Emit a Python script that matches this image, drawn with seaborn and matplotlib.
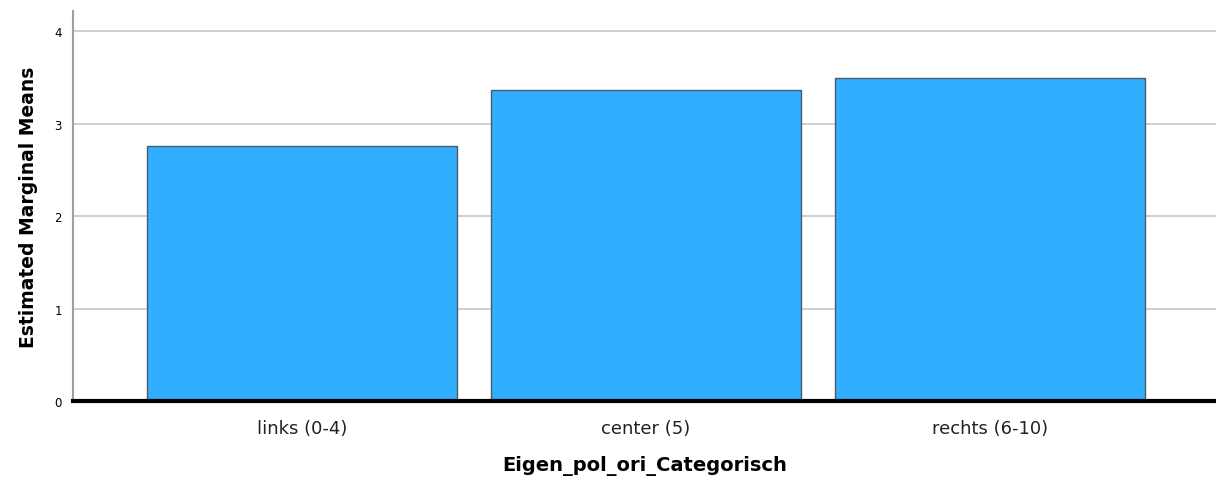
import matplotlib
matplotlib.use("Agg")
import matplotlib.pyplot as plt
import pandas as pd
import seaborn as sns

categories = ["links (0-4)", "center (5)", "rechts (6-10)"]
means = [2.757, 3.362, 3.49]

df = pd.DataFrame({"cat": categories, "mean": means})

sns.set_style("white")
plt.rcParams["font.family"] = ["DejaVu Sans"]

fig = plt.figure(figsize=(12.16, 4.85), dpi=100)
ax = fig.add_axes([0.060, 0.171, 0.940, 0.804])

sns.barplot(data=df, x="cat", y="mean", color="#31aeff", saturation=1,
            width=0.9, edgecolor="#4d5a66", linewidth=1, ax=ax, zorder=2)

ax.set_ylim(0, 4.216)
ax.set_xlim(-0.666, 2.657)
ax.set_yticks([0, 1, 2, 3, 4])
ax.yaxis.grid(True, color="#c8c8c8", linewidth=1.2, zorder=0)
ax.set_axisbelow(True)
ax.tick_params(axis="both", length=0)
ax.tick_params(axis="y", labelsize=8.5, pad=8, colors="black")
ax.tick_params(axis="x", labelsize=13, pad=13, colors="#222222")

for s in ["top", "right"]:
    ax.spines[s].set_visible(False)
ax.spines["left"].set_color("#a0a0a0")
ax.spines["left"].set_linewidth(1.5)
ax.spines["bottom"].set_color("black")
ax.spines["bottom"].set_linewidth(3)
ax.spines["bottom"].set_zorder(3)

ax.set_xlabel("Eigen_pol_ori_Categorisch", fontsize=14, fontweight="bold",
              labelpad=13, color="black")
ax.set_ylabel("Estimated Marginal Means", fontsize=13.5, fontweight="bold",
              labelpad=12, color="black")

fig.savefig("out.png", dpi=100)
